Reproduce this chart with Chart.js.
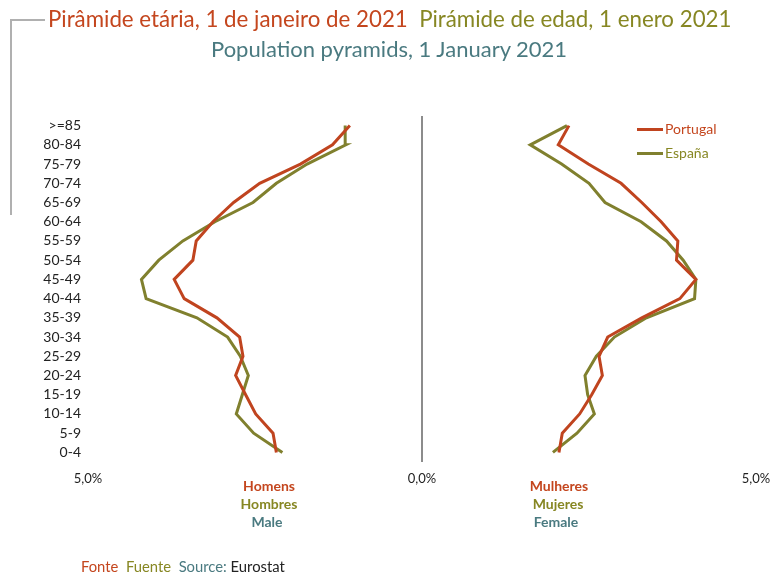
<!DOCTYPE html>
<html>
<head>
<meta charset="utf-8">
<script src="https://cdn.jsdelivr.net/npm/chart.js@4.4.0/dist/chart.umd.min.js"></script>
<style>
  body { margin: 0; background: #fff; }
  #wrap { position: relative; width: 772px; height: 574px; font-family: Lato, sans-serif; }
  #wrap canvas { position: absolute; left: 0; top: 0; }
  .t { position: absolute; white-space: nowrap; line-height: 1; }
  .red { color: #c4461e; }
  .olive { color: #878723; }
  .teal { color: #4a7a80; }
  .cap { font-weight: bold; font-size: 14px; transform: translateX(-50%); }
  .bracket { position: absolute; background: #b0b0b0; }
  .key { position: absolute; height: 3px; width: 26px; }
</style>
</head>
<body>
<div id="wrap">
  <canvas id="pyramid" width="772" height="574"></canvas>

  <div class="bracket" style="left:10px;top:19px;width:2px;height:196px"></div>
  <div class="bracket" style="left:10px;top:19px;width:35px;height:2px"></div>

  <div class="t" style="left:48px;top:8px;font-size:22.3px"><span class="red">Pirâmide etária, 1 de janeiro de 2021</span>&nbsp; <span class="olive">Pirámide de edad, 1 enero 2021</span></div>
  <div class="t teal" style="left:211px;top:38px;font-size:22px">Population pyramids, 1 January 2021</div>

  <div class="key" style="left:637px;top:128px;background:#c0441f"></div>
  <div class="t red" style="left:665px;top:122px;font-size:14px">Portugal</div>
  <div class="key" style="left:637px;top:152px;background:#80802e"></div>
  <div class="t olive" style="left:665px;top:146px;font-size:14px">España</div>

  <div class="t cap red" style="left:269px;top:479px">Homens</div>
  <div class="t cap olive" style="left:269px;top:497px">Hombres</div>
  <div class="t cap teal" style="left:267px;top:515px">Male</div>
  <div class="t cap red" style="left:559px;top:479px">Mulheres</div>
  <div class="t cap olive" style="left:558px;top:497px">Mujeres</div>
  <div class="t cap teal" style="left:556px;top:515px">Female</div>

  <div class="t" style="left:81px;top:559px;font-size:14.8px"><span class="red">Fonte</span>&nbsp; <span class="olive">Fuente</span>&nbsp; <span class="teal">Source:</span> <span style="color:#222">Eurostat</span></div>
</div>

<script>
// age groups, bottom to top
var ageGroups = ['0-4','5-9','10-14','15-19','20-24','25-29','30-34','35-39','40-44','45-49',
                 '50-54','55-59','60-64','65-69','70-74','75-79','80-84','>=85'];

// % of total population
var ptMale   = [2.18, 2.23, 2.49, 2.64, 2.79, 2.68, 2.73, 3.07, 3.56, 3.71, 3.43, 3.38, 3.13, 2.82, 2.43, 1.82, 1.34, 1.08];
var esMale   = [2.09, 2.52, 2.78, 2.69, 2.60, 2.72, 2.91, 3.37, 4.13, 4.20, 3.94, 3.58, 3.10, 2.53, 2.18, 1.72, 1.14, 1.15];
var ptFemale = [2.05, 2.10, 2.36, 2.54, 2.70, 2.65, 2.78, 3.29, 3.86, 4.10, 3.81, 3.83, 3.58, 3.29, 2.98, 2.49, 2.04, 2.20];
var esFemale = [1.96, 2.32, 2.58, 2.48, 2.44, 2.61, 2.88, 3.36, 4.08, 4.10, 3.91, 3.66, 3.28, 2.74, 2.50, 2.09, 1.62, 2.17];

var xTicks = [-5, 0, 5];

var colPT = '#c0441f';
var colES = '#80802e';

function neg(arr) { return arr.map(function (v) { return -v; }); }

function line(label, data, color) {
    return {
        label: label,
        data: data,
        borderColor: color,
        backgroundColor: color,
        borderWidth: 3,
        pointRadius: 0,
        tension: 0,
        fill: false
    };
}

var ctx = document.getElementById('pyramid');
var chart = new Chart(ctx, {
    type: 'line',
    data: {
        labels: ageGroups,
        datasets: [
            line('Portugal', neg(ptMale), colPT),
            line('España', neg(esMale), colES),
            line('Portugal', ptFemale, colPT),
            line('España', esFemale, colES)
        ]
    },
    options: {
        responsive: false,
        animation: false,
        indexAxis: 'y',
        layout: { padding: { top: 116, right: 16, bottom: 72, left: 0 } },
        plugins: {
            legend: { display: false },
            tooltip: { enabled: false }
        },
        scales: {
            x: {
                type: 'linear',
                min: -5,
                max: 5,
                afterBuildTicks: function (axis) {
                    axis.ticks = xTicks.map(function (v) { return { value: v }; });
                },
                afterFit: function (axis) {
                    axis.height = 40;
                    axis.paddingLeft = 0;
                    axis.paddingRight = 0;
                },
                border: { display: false },
                grid: {
                    drawTicks: false,
                    lineWidth: 2,
                    color: function (c) { return c.tick && c.tick.value === 0 ? '#8c8c8c' : 'rgba(0,0,0,0)'; }
                },
                ticks: {
                    padding: 9,
                    color: '#222',
                    font: { family: 'Lato', size: 13 },
                    maxRotation: 0,
                    callback: function (v) { return Math.abs(v).toFixed(1).replace('.', ',') + '%'; }
                }
            },
            y: {
                type: 'category',
                reverse: true,
                offset: true,
                afterFit: function (axis) { axis.width = 88; },
                border: { display: false },
                grid: { display: false, drawTicks: false },
                ticks: {
                    padding: 7,
                    color: '#222',
                    autoSkip: false,
                    font: { family: 'Lato', size: 14 }
                }
            }
        }
    }
});
</script>
</body>
</html>
